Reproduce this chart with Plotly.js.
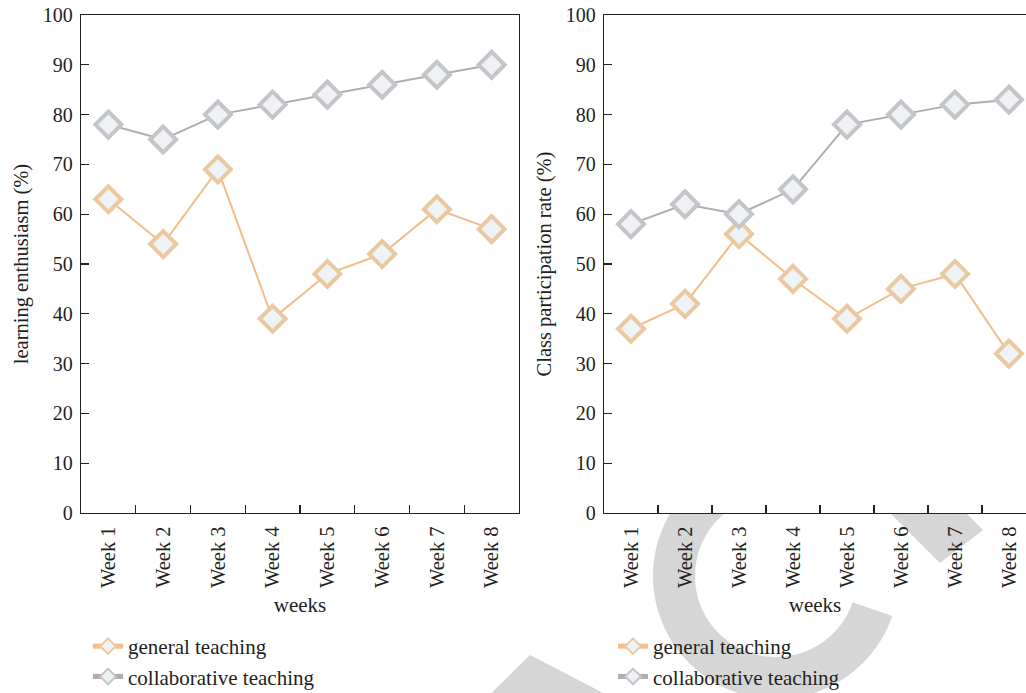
<!DOCTYPE html>
<html>
<head>
<meta charset="utf-8">
<script src="https://cdn.plot.ly/plotly-3.0.1.min.js"></script>
<style>
  html, body { margin: 0; padding: 0; background: #ffffff; }
  #chart { width: 1026px; height: 693px; }
</style>
</head>
<body>
<div id="chart"></div>
<script>
// ---- data ----
const weeks = ["Week 1", "Week 2", "Week 3", "Week 4", "Week 5", "Week 6", "Week 7", "Week 8"];
const enthusiasmGeneral = [63, 54, 69, 39, 48, 52, 61, 57];
const enthusiasmCollab  = [78, 75, 80, 82, 84, 86, 88, 90];
const participationGeneral = [37, 42, 56, 47, 39, 45, 48, 32];
const participationCollab  = [58, 62, 60, 65, 78, 80, 82, 83];
const seriesNames = ["general teaching", "collaborative teaching"];
const yTitleLeft = "learning enthusiasm (%)";
const yTitleRight = "Class participation rate (%)";
const xTitle = "weeks";

// ---- styling ----
const W = 1026, H = 693;
const M = {l: 0, r: 0, t: 15, b: 180};
const FONT = "Liberation Serif, Times New Roman, serif";
const TXT = "#231f20";
const genStyle = {line: "#f4bd8a", mline: "#eac9a0", fill: "#eff3f5"};
const colStyle = {line: "#b5abab", mline: "#c5c4c9", fill: "#eef2f5"};

function trace(y, name, st, xa, ya, leg) {
  return {
    type: "scatter", mode: "lines+markers",
    x: weeks, y: y, name: name,
    xaxis: xa, yaxis: ya, legend: leg, showlegend: true,
    legendgroup: name + leg,
    line: {color: st.line, width: 2},
    marker: {symbol: "diamond", size: 20, color: st.fill, line: {color: st.mline, width: 4}},
    cliponaxis: false
  };
}

const data = [
  trace(enthusiasmGeneral, seriesNames[0], genStyle, "x", "y", "legend"),
  trace(enthusiasmCollab, seriesNames[1], colStyle, "x", "y", "legend"),
  trace(participationGeneral, seriesNames[0], genStyle, "x2", "y2", "legend2"),
  trace(participationCollab, seriesNames[1], colStyle, "x2", "y2", "legend2")
];

// ---- decorative watermark (pixel geometry -> paper coords), kept below the x axis ----
const plotH = H - M.t - M.b;
const AXIS_Y = H - M.b;
const px = v => v / W;
const py = v => (AXIS_Y - v) / plotH;
function clipBelow(pts, yLim) { // keep part with y >= yLim (screen px)
  const out = [];
  for (let i = 0; i < pts.length; i++) {
    const a = pts[i], b = pts[(i + 1) % pts.length];
    const ain = a[1] >= yLim, bin = b[1] >= yLim;
    if (ain) out.push(a);
    if (ain !== bin) {
      const t = (yLim - a[1]) / (b[1] - a[1]);
      out.push([a[0] + t * (b[0] - a[0]), yLim]);
    }
  }
  return out;
}
function toPath(pts) {
  return "M" + pts.map(p => px(p[0]).toFixed(5) + "," + py(p[1]).toFixed(5)).join("L") + "Z";
}
function ringPts(cx, cy, R, r, a0, a1) {
  const n = 90, pts = [];
  for (let i = 0; i <= n; i++) { const a = (a0 + (a1 - a0) * i / n) * Math.PI / 180; pts.push([cx + R * Math.cos(a), cy + R * Math.sin(a)]); }
  for (let i = n; i >= 0; i--) { const a = (a0 + (a1 - a0) * i / n) * Math.PI / 180; pts.push([cx + r * Math.cos(a), cy + r * Math.sin(a)]); }
  return pts;
}
const wmColor = "#d6d6d6";
const wmPolys = [
  ringPts(776, 576, 123, 81, 19, 300),
  [[940, 563], [983, 530], [733, 280], [690, 313]],
  [[530, 655], [640, 712], [472, 712]]
];
const shapes = wmPolys.map(p => ({
  type: "path", xref: "paper", yref: "paper", layer: "below",
  path: toPath(clipBelow(p, AXIS_Y + 1)), fillcolor: wmColor, line: {width: 0}
}));

const xaxisBase = {
  type: "category", tickson: "boundaries", ticks: "inside", ticklen: 8, tickwidth: 1.2, tickcolor: TXT,
  showline: true, linecolor: TXT, linewidth: 1.3, showgrid: false, zeroline: false,
  tickangle: -90, tickfont: {family: FONT, size: 20.5, color: TXT}, ticklabelstandoff: 4,
  title: {text: xTitle, font: {family: FONT, size: 21, color: TXT}, standoff: 10},
  automargin: false, fixedrange: true
};
const yaxisBase = {
  range: [0, 100], dtick: 10, ticks: "inside", ticklen: 8, tickwidth: 1.2, tickcolor: TXT,
  showline: true, linecolor: TXT, linewidth: 1.3, showgrid: false, zeroline: false,
  tickfont: {family: FONT, size: 20, color: TXT}, ticklabelstandoff: 3,
  automargin: false, fixedrange: true
};
const legendBase = {
  xanchor: "left", yref: "container", y: (H - 626) / H, yanchor: "top", bgcolor: "rgba(0,0,0,0)",
  font: {family: FONT, size: 21, color: TXT}, traceorder: "grouped", tracegroupgap: 0,
  itemsizing: "constant", borderwidth: 0
};

const layout = {
  width: W, height: H, margin: M,
  paper_bgcolor: "#ffffff", plot_bgcolor: "#ffffff",
  font: {family: FONT, color: TXT},
  xaxis: Object.assign({}, xaxisBase, {domain: [px(81), px(519)], range: [-0.5, 7.5], mirror: true, anchor: "y"}),
  yaxis: Object.assign({}, yaxisBase, {domain: [0, 1], mirror: true, anchor: "x",
    title: {text: yTitleLeft, font: {family: FONT, size: 20.5, color: TXT}, standoff: 8}}),
  xaxis2: Object.assign({}, xaxisBase, {domain: [px(604), 1], range: [-0.5, 7.315], mirror: true, anchor: "y2"}),
  yaxis2: Object.assign({}, yaxisBase, {domain: [0, 1], mirror: false, anchor: "x2",
    title: {text: yTitleRight, font: {family: FONT, size: 20.5, color: TXT}, standoff: 8}}),
  legend: Object.assign({}, legendBase, {x: px(88)}),
  legend2: Object.assign({}, legendBase, {x: px(613)}),
  shapes: shapes,
  showlegend: true
};

Plotly.newPlot("chart", data, layout, {displayModeBar: false, staticPlot: true});
</script>
</body>
</html>
